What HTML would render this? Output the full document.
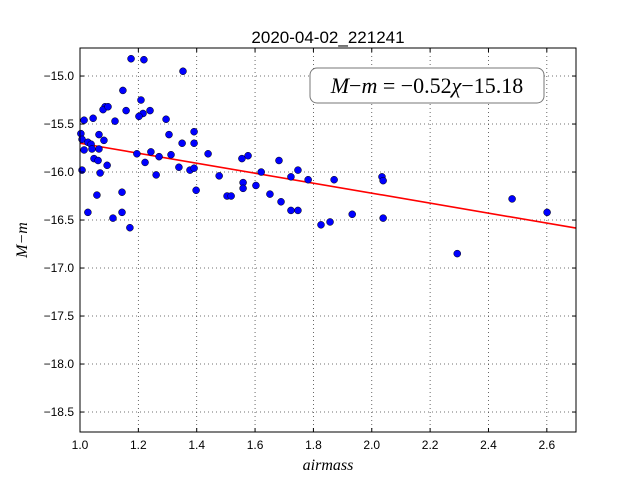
<!DOCTYPE html>
<html><head><meta charset="utf-8">
<style>
body{margin:0;background:#fff;}
svg{display:block;font-family:"Liberation Sans",sans-serif;}
</style></head>
<body>
<svg id="chart" width="640" height="480" viewBox="0 0 640 480" xmlns="http://www.w3.org/2000/svg"></svg>
<script>
const xTicks=[1.0,1.2,1.4,1.6,1.8,2.0,2.2,2.4,2.6];
const yTicks=[-15.0,-15.5,-16.0,-16.5,-17.0,-17.5,-18.0,-18.5];
const airmass=[1.175,1.219,1.353,1.147,1.209,1.086,1.079,1.096,1.158,1.216,1.202,1.240,1.014,1.045,1.120,1.295,1.003,1.007,1.065,1.082,1.027,1.038,1.014,1.041,1.065,1.305,1.391,1.350,1.391,1.195,1.243,1.271,1.312,1.048,1.062,1.223,1.093,1.339,1.377,1.391,1.007,1.069,1.261,1.398,1.058,1.144,1.027,1.144,1.113,1.171,1.439,1.477,1.555,1.576,1.621,1.682,1.559,1.559,1.603,1.504,1.518,1.651,1.689,1.723,1.747,1.782,1.723,1.747,1.871,1.826,1.857,1.933,2.035,2.039,2.039,2.293,2.481,2.601];
const magDiff=[-14.82,-14.83,-14.95,-15.15,-15.25,-15.32,-15.35,-15.32,-15.36,-15.39,-15.42,-15.36,-15.46,-15.44,-15.47,-15.45,-15.60,-15.66,-15.61,-15.67,-15.69,-15.71,-15.77,-15.76,-15.76,-15.61,-15.58,-15.70,-15.70,-15.81,-15.79,-15.84,-15.82,-15.86,-15.88,-15.90,-15.93,-15.95,-15.98,-15.96,-15.98,-16.01,-16.03,-16.19,-16.24,-16.21,-16.42,-16.42,-16.48,-16.58,-15.81,-16.04,-15.86,-15.83,-16.00,-15.88,-16.11,-16.17,-16.14,-16.25,-16.25,-16.23,-16.31,-16.05,-15.98,-16.08,-16.40,-16.40,-16.08,-16.55,-16.52,-16.44,-16.05,-16.09,-16.48,-16.85,-16.28,-16.42];
const fitSlope=-0.52, fitIntercept=-15.18;

const L=80,R=576,T=48,B=432;
const xMin=1.0,xMax=2.7,yTop=-14.708,yBot=-18.708;
const sx=v=>L+(v-xMin)/(xMax-xMin)*(R-L);
const sy=v=>T+(yTop-v)/(yTop-yBot)*(B-T);
const svg=document.getElementById('chart');
const NS='http://www.w3.org/2000/svg';
function mk(tag,attrs,parent){const e=document.createElementNS(NS,tag);for(const k in attrs)e.setAttribute(k,attrs[k]);(parent||svg).appendChild(e);return e;}

const grid=mk('g',{});


xTicks.forEach(t=>{mk('line',{x1:sx(t),x2:sx(t),y1:T,y2:B,stroke:'#444','stroke-width':0.8,'stroke-dasharray':'1,3'},grid);});
yTicks.forEach(t=>{mk('line',{x1:L,x2:R,y1:sy(t),y2:sy(t),stroke:'#444','stroke-width':0.8,'stroke-dasharray':'1,3'},grid);});

const fit=mk('line',{x1:sx(xMin),y1:sy(fitSlope*xMin+fitIntercept),x2:sx(xMax),y2:sy(fitSlope*xMax+fitIntercept),stroke:'#ff0000','stroke-width':1.6});



const pts=mk('g',{});


airmass.forEach((a,i)=>{
  const c=mk('circle',{cx:sx(a),cy:sy(magDiff[i]),r:3.5,fill:'#0000ff',stroke:'#000','stroke-width':0.5},pts);
  
  
});

const frame=mk('rect',{x:L,y:T,width:R-L,height:B-T,fill:'none',stroke:'#000','stroke-width':1});



xTicks.forEach(t=>{
  mk('line',{x1:sx(t),x2:sx(t),y1:B,y2:B-4,stroke:'#000'});
  mk('line',{x1:sx(t),x2:sx(t),y1:T,y2:T+4,stroke:'#000'});
  const tx=mk('text',{x:sx(t),y:B+17,'font-size':12,'text-anchor':'middle'});
  tx.textContent=t.toFixed(1);
  
  
});
yTicks.forEach(t=>{
  mk('line',{x1:L,x2:L+4,y1:sy(t),y2:sy(t),stroke:'#000'});
  mk('line',{x1:R,x2:R-4,y1:sy(t),y2:sy(t),stroke:'#000'});
  const tx=mk('text',{x:L-6,y:sy(t)+4,'font-size':12,'text-anchor':'end'});
  tx.textContent=t.toFixed(1).replace('-','\u2212');
  
  
});

const title=mk('text',{x:328,y:43,'font-size':17,'text-anchor':'middle'});
title.textContent='2020-04-02_221241';



const xl=mk('text',{x:328,y:470,'font-size':16,'text-anchor':'middle','font-style':'italic','font-family':'Liberation Serif,serif'});
xl.textContent='airmass';


const yl=mk('text',{x:0,y:0,'font-size':16,'text-anchor':'middle','font-style':'italic','font-family':'Liberation Serif,serif',transform:'translate(27,240) rotate(-90)'});
yl.textContent='M\u2212m';



const box=mk('rect',{x:310,y:68,width:234,height:35,rx:7,fill:'#fff',stroke:'#777','stroke-width':1});


const eq=mk('text',{x:427,y:93,'font-size':22,'text-anchor':'middle','font-family':'Liberation Serif,serif'});
eq.innerHTML='<tspan font-style="italic">M</tspan>\u2212<tspan font-style="italic">m</tspan> = \u22120.52<tspan font-style="italic">\u03c7</tspan>\u221215.18';


</script>
</body></html>
